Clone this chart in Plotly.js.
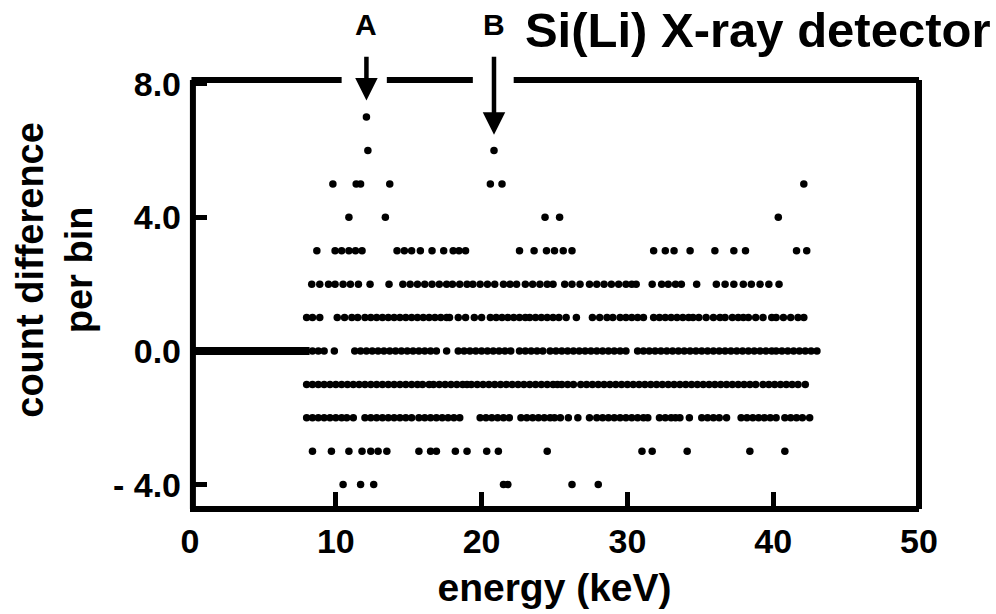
<!DOCTYPE html>
<html>
<head>
<meta charset="utf-8">
<script src="https://cdn.plot.ly/plotly-3.0.1.min.js"></script>
<style>html,body{margin:0;padding:0;background:#fff;}#chart{width:996px;height:614px;}</style>
</head>
<body>
<div id="chart"></div>
<script>
// ---- data (energy in keV at each integer count-difference level) ----
const lowEnergyLineX = [0, 8.2];
const lowEnergyLineY = [0, 0];

const level7X = [12.1];
const level6X = [12.2, 20.85];
const level5X = [9.8, 11.4, 11.7, 13.7, 20.6, 21.4, 42.1];
const level4X = [10.9, 13.4, 24.35, 25.35, 40.35];
const level3X = [8.7, 9.95, 10.4, 10.9, 11.35, 11.8, 14.2, 14.7, 15.2, 15.8, 16.6, 17.4, 18.05, 18.45, 18.9,
  22.6, 23.6, 24.45, 25.0, 25.6, 26.2, 31.8, 32.6, 33.2, 34.3, 36.0, 37.3, 38.1, 41.6, 42.3];
const level2X = [8.35, 8.9, 9.5, 9.95, 10.5, 11.0, 11.55, 12.35, 13.65, 14.6, 15.1, 15.6, 16.1, 16.6, 17.1, 17.6,
  18.0, 18.5, 19.0, 19.4, 19.9, 20.4, 20.9, 21.5, 21.95, 22.4, 23.0, 23.5, 24.0, 24.5, 24.9, 25.7, 26.2, 26.75,
  27.4, 27.9, 28.4, 28.9, 29.4, 29.9, 30.3, 30.6, 31.7, 32.35, 32.8, 33.3, 33.7, 34.75, 36.1, 36.7, 37.3, 37.95,
  38.5, 39.1, 39.7, 40.4];
const level1X = [8.0, 8.4, 8.9, 10.1, 10.6, 11.1, 11.5, 12.0, 12.4, 12.8, 13.2, 13.6, 14.0, 14.4, 14.8, 15.2, 15.6,
  16.0, 16.4, 16.8, 17.2, 17.6, 17.8, 18.4, 18.9, 19.5, 20.0, 20.6, 21.0, 21.4, 21.8, 22.2, 22.6, 23.0, 23.3, 23.7,
  24.1, 24.5, 24.9, 25.3, 25.8, 26.5, 27.6, 28.1, 28.6, 29.0, 29.5, 29.9, 30.3, 30.7, 31.1, 31.8, 32.2, 32.6, 33.0,
  33.4, 33.8, 34.2, 34.5, 34.9, 35.4, 35.9, 36.35, 36.7, 37.2, 37.6, 37.95, 38.3, 38.8, 39.3, 39.9, 40.2, 40.7,
  41.2, 41.7, 42.1];
const level0X = [8.4, 8.8, 9.2, 9.9, 11.3, 11.7, 12.1, 12.5, 12.9, 13.3, 13.7, 14.1, 14.5, 14.9, 15.3, 15.7, 16.1,
  16.5, 16.9, 17.6, 18.4, 18.8, 19.2, 19.6, 20.0, 20.4, 20.8, 21.2, 21.6, 22.0, 22.6, 23.0, 23.4, 23.8, 24.2, 24.7,
  25.1, 25.5, 25.9, 26.3, 26.7, 27.1, 27.5, 27.9, 28.3, 28.7, 29.1, 29.5, 29.9, 30.7, 31.1, 31.5, 31.9, 32.3, 32.7,
  33.1, 33.5, 33.9, 34.3, 34.7, 35.1, 35.5, 35.9, 36.3, 36.7, 37.1, 37.5, 37.9, 38.3, 38.7, 39.1, 39.5, 39.9, 40.2,
  40.6, 41.0, 41.4, 41.8, 42.2, 42.6, 43.0];
const levelM1X = [8.0, 8.4, 8.8, 9.2, 9.6, 10.0, 10.4, 10.8, 11.2, 11.6, 12.0, 12.4, 12.8, 13.2, 13.6, 14.0, 14.4,
  14.8, 15.2, 15.6, 15.95, 16.4, 16.7, 17.1, 17.5, 17.9, 18.3, 18.7, 19.0, 19.3, 19.7, 20.1, 20.5, 20.9, 21.3, 21.7,
  22.1, 22.5, 22.9, 23.3, 23.7, 24.1, 24.5, 24.9, 25.2, 25.5, 25.9, 26.3, 26.8, 27.2, 27.6, 28.0, 28.4, 28.8, 29.2,
  29.6, 30.0, 30.4, 30.8, 31.2, 31.6, 32.0, 32.4, 32.8, 33.2, 33.6, 34.0, 34.4, 34.8, 35.2, 35.6, 36.0, 36.4, 36.8,
  37.2, 37.6, 38.0, 38.4, 38.8, 39.3, 39.7, 40.1, 40.5, 40.9, 41.3, 41.7, 42.2];
const levelM2X = [8.0, 8.4, 8.8, 9.2, 9.6, 10.0, 10.4, 10.75, 11.2, 12.0, 12.4, 12.8, 13.2, 13.6, 14.0, 14.4, 14.8,
  15.2, 15.7, 16.1, 16.5, 16.9, 17.3, 17.7, 18.1, 18.5, 19.9, 20.3, 20.7, 21.1, 21.5, 21.9, 22.7, 23.1, 23.5, 23.9,
  24.3, 24.7, 25.0, 25.4, 25.95, 26.6, 27.4, 27.9, 28.3, 28.7, 29.1, 29.5, 29.9, 30.3, 30.7, 31.1, 31.4, 32.2, 32.6,
  33.0, 33.3, 33.6, 34.25, 35.1, 35.5, 35.9, 36.3, 36.8, 37.8, 38.2, 38.6, 39.0, 39.4, 39.8, 40.2, 40.8, 41.2, 41.6,
  42.0, 42.5];
const levelM3X = [8.4, 9.7, 10.9, 11.8, 12.4, 12.9, 13.5, 15.7, 16.5, 16.9, 18.2, 19.0, 20.35, 21.15, 24.5, 31.0,
  31.7, 34.1, 38.4, 40.8];
const levelM4X = [10.5, 11.7, 12.6, 21.5, 21.8, 26.2, 28.0];

const levels = [7, 6, 5, 4, 3, 2, 1, 0, -1, -2, -3, -4];
const levelXs = [level7X, level6X, level5X, level4X, level3X, level2X, level1X, level0X, levelM1X, levelM2X, levelM3X, levelM4X];

const xTickVals = [0, 10, 20, 30, 40, 50];
const xTickText = ['0', '10', '20', '30', '40', '50'];
const yTickVals = [8, 4, 0, -4];
const yTickText = ['8.0', '4.0', '0.0', '- 4.0'];

const peakLabels = ['A', 'B'];
const peakEnergy = [12.1, 20.85];
const peakTipY = [7.5, 6.47];

// ---- build traces ----
const allX = [], allY = [];
levels.forEach((lv, i) => { levelXs[i].forEach(x => { allX.push(x); allY.push(lv); }); });

const FONT = 'Liberation Sans, Arial, sans-serif';
const traces = [
  {x: lowEnergyLineX, y: lowEnergyLineY, mode: 'lines', line: {color: '#000', width: 8}, hoverinfo: 'skip', showlegend: false},
  {x: allX, y: allY, mode: 'markers', marker: {color: '#000', size: 7.5}, showlegend: false}
];

const frameW = 6;
const shapes = [
  {type: 'line', xref: 'paper', yref: 'paper', x0: 0.004, x1: 0.004, y0: 0, y1: 1, line: {color: '#000', width: frameW}},
  {type: 'line', xref: 'paper', yref: 'paper', x0: 0, x1: 1, y0: 0, y1: 0, line: {color: '#000', width: frameW}},
  {type: 'line', xref: 'paper', yref: 'paper', x0: 1, x1: 1, y0: 0, y1: 1, line: {color: '#000', width: frameW}},
  {type: 'line', xref: 'x', yref: 'paper', x0: 0.1, x1: 10.4, y0: 1, y1: 1, line: {color: '#000', width: frameW}},
  {type: 'line', xref: 'x', yref: 'paper', x0: 13.5, x1: 19.4, y0: 1, y1: 1, line: {color: '#000', width: frameW}},
  {type: 'line', xref: 'x', yref: 'paper', x0: 22.2, x1: 50, y0: 1, y1: 1, line: {color: '#000', width: frameW}}
];

const annotations = [];
peakLabels.forEach((lab, i) => {
  annotations.push({x: peakEnergy[i], y: peakTipY[i], xref: 'x', yref: 'y', axref: 'x', ayref: 'y',
    ax: peakEnergy[i], ay: 8.85, showarrow: true, arrowhead: 2, arrowsize: 1, arrowwidth: 4.5, arrowcolor: '#000', text: ''});
  annotations.push({x: peakEnergy[i], y: 1.13, xref: 'x', yref: 'paper', yanchor: 'middle', showarrow: false,
    text: '<b>' + lab + '</b>', font: {family: FONT, size: 30, color: '#000'}});
});
annotations.push({xref: 'paper', yref: 'paper', x: -0.187, y: 0.557, xanchor: 'center', yanchor: 'middle',
  textangle: -90, showarrow: false, text: '<b>count difference<br>per bin</b>',
  font: {family: FONT, size: 38, color: '#000'}});

const layout = {
  width: 996, height: 614,
  margin: {l: 190, r: 77, t: 80, b: 105},
  paper_bgcolor: '#fff', plot_bgcolor: '#fff',
  font: {family: FONT, color: '#000'},
  title: {text: '<b>Si(Li) X-ray detector</b>', xref: 'container', yref: 'container', x: 0.527, xanchor: 'left',
    y: 0.951, yanchor: 'middle', font: {family: FONT, size: 49, color: '#000'}},
  xaxis: {range: [0, 50], tickvals: xTickVals, ticktext: xTickText, ticks: 'inside', ticklen: 17, tickwidth: 5,
    tickcolor: '#000', showgrid: false, zeroline: false, showline: false, ticklabelstandoff: 9,
    tickfont: {family: FONT, size: 34, color: '#000', weight: 'bold'},
    title: {text: '<b>energy (keV)</b>', standoff: 14, font: {family: FONT, size: 39, color: '#000'}}},
  yaxis: {range: [-4.73, 8.11], tickvals: yTickVals, ticktext: yTickText, ticks: 'inside', ticklen: 17, tickwidth: 5,
    tickcolor: '#000', showgrid: false, zeroline: false, showline: false, ticklabelstandoff: 8,
    tickfont: {family: FONT, size: 34, color: '#000', weight: 'bold'}},
  shapes: shapes,
  annotations: annotations,
  showlegend: false
};

Plotly.newPlot('chart', traces, layout, {displayModeBar: false, staticPlot: true});
</script>
</body>
</html>
